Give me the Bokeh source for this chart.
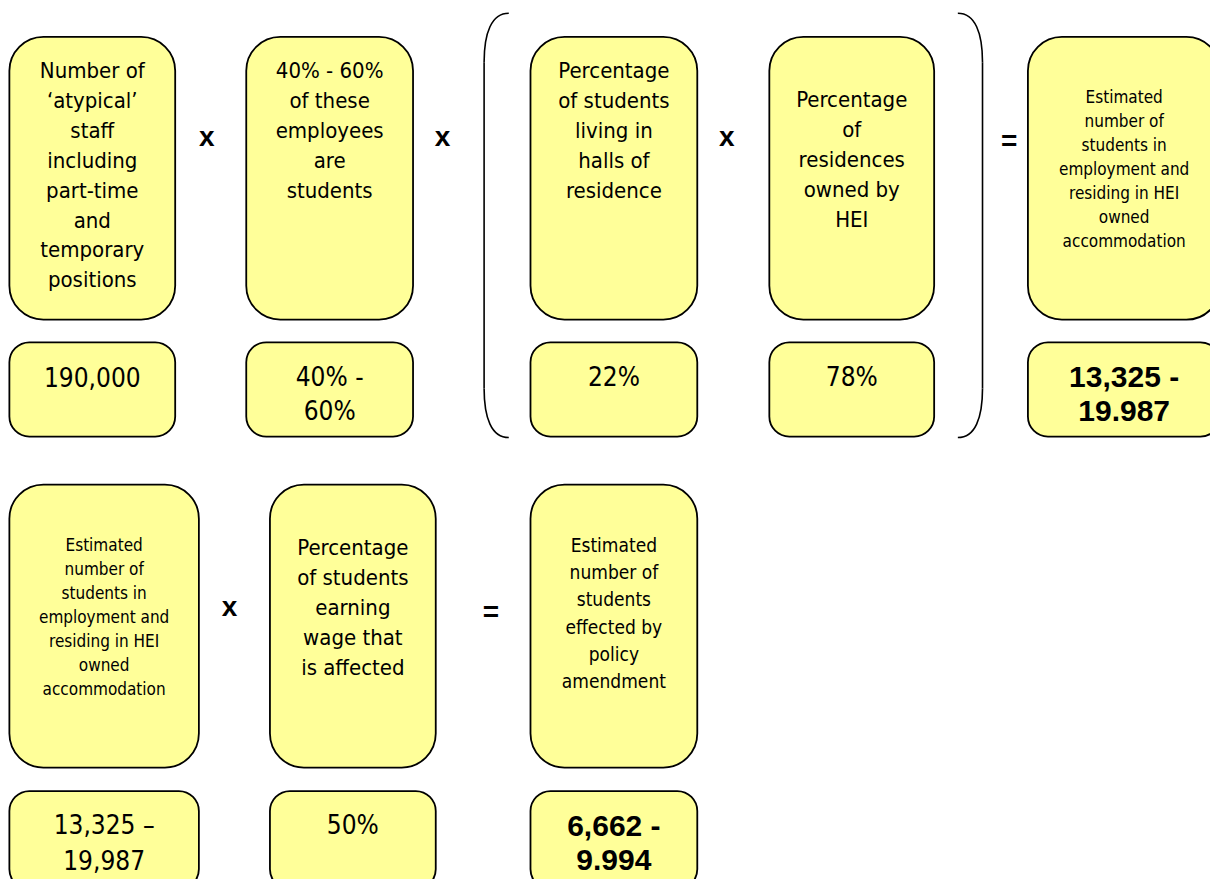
from bokeh.plotting import figure
from bokeh.models import ColumnDataSource, Range1d
from bokeh.core.properties import value
from bokeh.embed import file_html
from bokeh.resources import INLINE

FONT = "Liberation Sans Narrow, Arial Narrow, DejaVu Sans Condensed, sans-serif"
BOLD_FONT = "Liberation Sans, Arial, sans-serif"
FILL = "#FFFF99"

# ---- data: texts of the diagram ----
top_labels = [
    ["Number of", "\u2018atypical\u2019", "staff", "including", "part-time", "and", "temporary", "positions"],
    ["40% - 60%", "of these", "employees", "are", "students"],
    ["Percentage", "of students", "living in", "halls of", "residence"],
    ["Percentage", "of", "residences", "owned by", "HEI"],
    ["Estimated", "number of", "students in", "employment and", "residing in HEI", "owned", "accommodation"],
]
top_values = [["190,000"], ["40% -", "60%"], ["22%"], ["78%"], ["13,325 -", "19.987"]]
top_value_bold = [False, False, False, False, True]
top_ops = ["x", "x", "x", "="]

bottom_labels = [
    ["Estimated", "number of", "students in", "employment and", "residing in HEI", "owned", "accommodation"],
    ["Percentage", "of students", "earning", "wage that", "is affected"],
    ["Estimated", "number of", "students", "effected by", "policy", "amendment"],
]
bottom_values = [["13,325 \u2013", "19,987"], ["50%"], ["6,662 -", "9.994"]]
bottom_value_bold = [False, False, True]
bottom_ops = ["x", "="]

# ---- layout (pixel coordinates of the reference image) ----
top_box_x = [(9, 177), (249, 418), (537, 706), (779, 946), (1041, 1236)]
top_label_style = [  # first line y, line spacing, font size
    (71, 30.5, 22), (71, 30.5, 22), (71, 30.5, 22), (101, 30.5, 22), (98, 24.5, 17)]
top_op_pos = [(209, 138), (448, 138), (736, 138), (1022, 143)]
bottom_box_x = [(9, 201), (273, 441), (537, 706)]
bottom_label_style = [(554, 24.5, 17), (557, 30.5, 22), (554, 27.8, 19)]
bottom_op_pos = [(232, 617), (497, 622)]

W, H = 1210, 879
p = figure(width=W, height=H, output_backend="svg", toolbar_location=None,
           x_range=Range1d(0, 1226), y_range=Range1d(895, 0),
           min_border=0, background_fill_color="white", border_fill_color="white")
p.axis.visible = False
p.grid.visible = False
p.outline_line_color = None


def boxes(xs, top, bottom, radius):
    src = ColumnDataSource(dict(left=[a for a, b in xs], right=[b for a, b in xs],
                                top=[top] * len(xs), bottom=[bottom] * len(xs)))
    p.quad(left="left", right="right", top="top", bottom="bottom", source=src,
           fill_color=FILL, line_color="black", line_width=1.8, border_radius=radius)


def add_lines(cx, y0, dy, size, lines, bold=False):
    xs, ys, ts = [], [], []
    for i, t in enumerate(lines):
        xs.append(cx); ys.append(y0 + i * dy); ts.append(t)
    p.text(x=xs, y=ys, text=ts, text_align="center", text_baseline="middle",
           text_font=value(BOLD_FONT if bold else FONT), text_font_size=f"{size}px",
           text_font_style="bold" if bold else "normal", text_color="black")


# top row
boxes(top_box_x, 37, 325, 34)
boxes(top_box_x, 348, 444, 20)
for (a, b), (y0, dy, fs), lines in zip(top_box_x, top_label_style, top_labels):
    add_lines((a + b) / 2, y0, dy, fs, lines)
for (a, b), lines, bold in zip(top_box_x, top_values, top_value_bold):
    add_lines((a + b) / 2, 383, 34.5, 30 if bold else 26, lines, bold)
for (x, y), op in zip(top_op_pos, top_ops):
    add_lines(x, y, 0, 28, [op], True)

# bottom row
boxes(bottom_box_x, 493, 781, 34)
boxes(bottom_box_x, 805, 905, 20)
for (a, b), (y0, dy, fs), lines in zip(bottom_box_x, bottom_label_style, bottom_labels):
    add_lines((a + b) / 2, y0, dy, fs, lines)
for (a, b), lines, bold in zip(bottom_box_x, bottom_values, bottom_value_bold):
    add_lines((a + b) / 2, 840, 35, 30 if bold else 26, lines, bold)
for (x, y), op in zip(bottom_op_pos, bottom_ops):
    add_lines(x, y, 0, 28, [op], True)

# parentheses around the two middle factors
py_top, py_bot = 13, 445
for xo, xi in [(515, 490), (970, 995)]:
    p.bezier(x0=[xo, xi], y0=[py_top, py_bot - 50], x1=[xi, xo], y1=[py_top + 50, py_bot],
             cx0=[xi + (xo - xi) * 0.3, xi], cy0=[py_top, py_bot - 20],
             cx1=[xi, xi + (xo - xi) * 0.3], cy1=[py_top + 20, py_bot],
             line_color="black", line_width=1.6)
    p.segment(x0=[xi], y0=[py_top + 50], x1=[xi], y1=[py_bot - 50],
              line_color="black", line_width=1.6)

open("out.html", "w").write(file_html(p, INLINE))
